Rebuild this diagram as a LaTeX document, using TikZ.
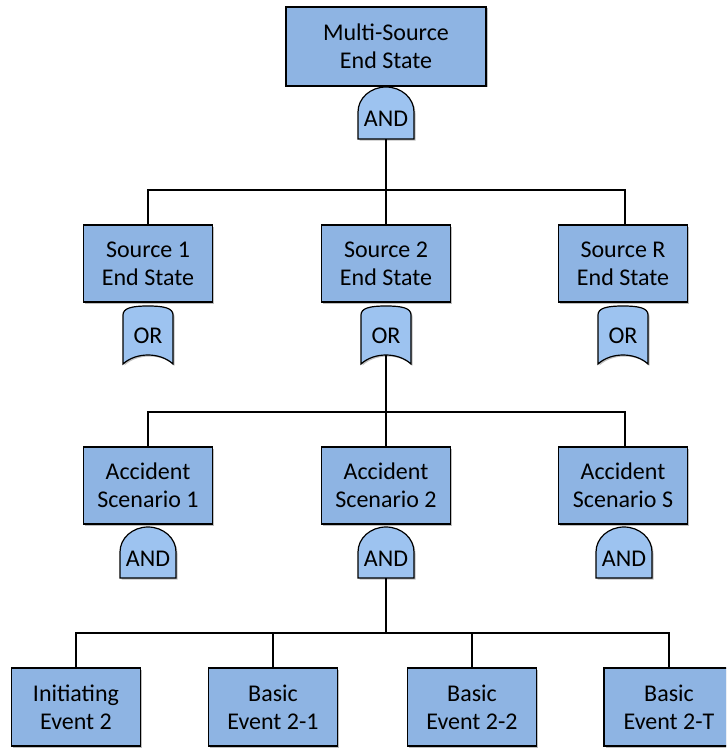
\documentclass[tikz,border=0pt]{standalone}
\usepackage{fontspec}
\setmainfont{Carlito}
\usetikzlibrary{shadows}

\definecolor{boxblue}{RGB}{142,180,227}
\definecolor{gateblue}{RGB}{157,195,240}

\tikzset{
  softshadow/.style={drop shadow={shadow xshift=1.5pt, shadow yshift=-1.5pt, opacity=0.25, fill=black}},
  evbox/.style={draw=black, line width=1.8pt, fill=boxblue, minimum width=129pt,
    minimum height=77pt, align=center, inner sep=0pt,
    font=\fontsize{24}{28}\selectfont, softshadow},
  gateshape/.style={draw=black, line width=1.2pt, fill=gateblue, softshadow},
  gatelabel/.style={inner sep=0pt, font=\fontsize{24}{28}\selectfont},
  wire/.style={draw=black, line width=1.6pt},
}

% AND gate: name, centre x, top y, bottom y
\newcommand\andgate[4]{%
  \draw[gateshape] ({#2-28},#4) -- ({#2-28},{#3+25})
    .. controls ({#2-28},{#3+11.2}) and ({#2-15.5},#3) .. (#2,#3)
    .. controls ({#2+15.5},#3) and ({#2+28},{#3+11.2}) .. ({#2+28},{#3+25})
    -- ({#2+28},#4) -- cycle;
  \node[gatelabel] (#1) at (#2,{(#3+#4)/2+6}) {AND};
  \coordinate (#1-foot) at (#2,#4);
}

% OR gate: name, centre x, top y, bottom y (at the sides)
\newcommand\orgate[4]{%
  \draw[gateshape] ({#2-25},#4) -- ({#2-25},{#3+9})
    .. controls ({#2-25},{#3+2}) and ({#2-16},#3) .. (#2,#3)
    .. controls ({#2+16},#3) and ({#2+25},{#3+2}) .. ({#2+25},{#3+9})
    -- ({#2+25},#4)
    .. controls ({#2+12},{#4-12}) and ({#2-12},{#4-12}) .. ({#2-25},#4) -- cycle;
  \node[gatelabel] (#1) at (#2,{(#3+#4)/2+1}) {OR};
  \coordinate (#1-foot) at (#2,{#4-9});
}

\begin{document}
\begin{tikzpicture}[x=1pt, y=-1pt]
  \useasboundingbox (0,0) rectangle (726,749);
  \clip (0,0) rectangle (726,749);

  % junction points of the connector bars
  \coordinate (j1) at (386,190);
  \coordinate (j2) at (386,412);
  \coordinate (j3) at (386,633);

  % top event
  \node[evbox, minimum width=200pt, minimum height=79pt] (top) at (386,46.5) {Multi-Source\\End State};

  % source end states
  \node[evbox] (s1) at (148,263.5) {Source 1\\End State};
  \node[evbox] (s2) at (386,263.5) {Source 2\\End State};
  \node[evbox] (sR) at (623,263.5) {Source R\\End State};

  % accident scenarios
  \node[evbox] (a1) at (148,485.5) {Accident\\Scenario 1};
  \node[evbox] (a2) at (386,485.5) {Accident\\Scenario 2};
  \node[evbox] (aS) at (623,485.5) {Accident\\Scenario S};

  % initiating and basic events
  \node[evbox, minimum height=78pt] (e0) at (76,707) {Initiating\\Event 2};
  \node[evbox, minimum height=78pt] (e1) at (273,707) {Basic\\Event 2-1};
  \node[evbox, minimum height=78pt] (e2) at (472,707) {Basic\\Event 2-2};
  \node[evbox, minimum height=78pt, minimum width=130pt] (eT) at (669,707) {Basic\\Event 2-T};

  % gates
  \andgate{g0}{386}{87}{139}
  \orgate{o1}{148}{306}{364}
  \orgate{o2}{386}{306}{364}
  \orgate{oR}{623}{306}{364}
  \andgate{n1}{148}{527}{578}
  \andgate{n2}{386}{527}{578}
  \andgate{nS}{624}{527}{578}

  % connectors
  \draw[wire] (g0-foot) -- (j1);
  \draw[wire] (s1.north) |- (j1) -| ([xshift=2pt]sR.north);
  \draw[wire] (j1) -- (s2.north);

  \draw[wire] (o2-foot) -- (j2);
  \draw[wire] (a1.north) |- (j2) -| ([xshift=2pt]aS.north);
  \draw[wire] (j2) -- (a2.north);

  \draw[wire] (n2-foot) -- (j3);
  \draw[wire] (e0.north) |- (j3) -| (eT.north);
  \draw[wire] (e1.north) -- (e1.north |- j3);
  \draw[wire] (e2.north) -- (e2.north |- j3);
\end{tikzpicture}
\end{document}
